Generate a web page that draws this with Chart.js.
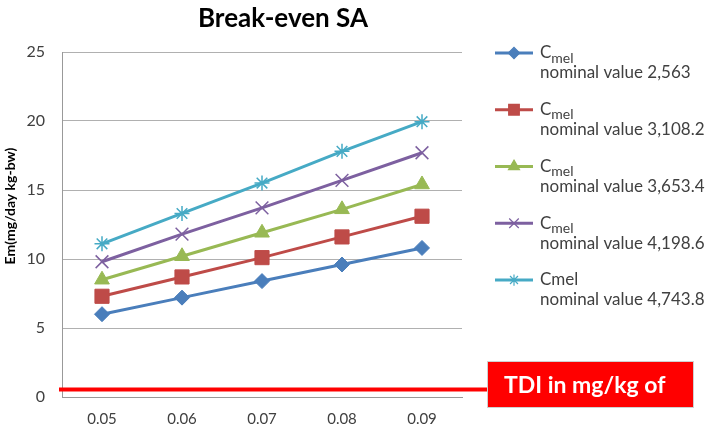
<!DOCTYPE html>
<html>
<head>
  <meta charset="UTF-8">
  <title>Break-even SA</title>
  <script src="https://cdn.jsdelivr.net/npm/chart.js"></script>
  <style>
    body { margin: 0; background: #fff; }
    #wrap { width: 709px; height: 437px; }
  </style>
</head>
<body>
  <div id="wrap"><canvas id="chart" width="709" height="437"></canvas></div>
  <script>
    const categories = ['0.05', '0.06', '0.07', '0.08', '0.09'];
    const nominalValues = ['2,563', '3,108.2', '3,653.4', '4,198.6', '4,743.8'];
    const cmel1 = [6.0, 7.2, 8.4, 9.6, 10.8];
    const cmel2 = [7.3, 8.7, 10.1, 11.6, 13.1];
    const cmel3 = [8.5, 10.2, 11.9, 13.6, 15.4];
    const cmel4 = [9.8, 11.8, 13.7, 15.7, 17.7];
    const cmel5 = [11.1, 13.3, 15.5, 17.8, 19.95];
    const yTicks = [0, 5, 10, 15, 20, 25];
    const tdi = 0.55;

    const colors = ['#4a7ebb', '#be4b48', '#98b954', '#7d60a0', '#46aac5'];
    const markers = ['rectRot', 'rect', 'triangle', 'crossRot', 'star'];
    const radii = [7.5, 10, 8.5, 9, 7.5];
    const series = [cmel1, cmel2, cmel3, cmel4, cmel5];
    const FONT = 'Lato, "Open Sans", sans-serif';

    // title, y title, legend, TDI line and box drawn by hand
    const extras = {
      id: 'extras',
      afterDraw(chart) {
        const ctx = chart.ctx;
        const y = chart.scales.y;
        const area = chart.chartArea;
        ctx.save();

        ctx.fillStyle = '#000';
        ctx.font = 'bold 26px ' + FONT;
        ctx.textAlign = 'center';
        ctx.textBaseline = 'middle';
        ctx.fillText('Break-even SA', 283, 19);

        ctx.save();
        ctx.translate(10, 206);
        ctx.rotate(-Math.PI / 2);
        ctx.font = 'bold 14px ' + FONT;
        ctx.fillText('Em(mg/day kg-bw)', 0, 0);
        ctx.restore();

        // legend
        ctx.textAlign = 'left';
        series.forEach((s, i) => {
          const ly = 53 + i * 56.75;
          ctx.strokeStyle = colors[i];
          ctx.fillStyle = colors[i];
          ctx.lineWidth = 3;
          ctx.beginPath();
          ctx.moveTo(495, ly);
          ctx.lineTo(533, ly);
          ctx.stroke();
          ctx.lineWidth = 1.2;
          Chart.helpers.drawPoint(ctx, {
            pointStyle: markers[i], radius: radii[i] * 0.75, borderWidth: 1.2
          }, 514, ly);
          ctx.fillStyle = '#404040';
          ctx.font = '17px ' + FONT;
          ctx.textBaseline = 'middle';
          if (i < 4) {
            ctx.fillText('C', 540, ly);
            const w = ctx.measureText('C').width;
            ctx.font = '14px ' + FONT;
            ctx.fillText('mel', 540 + w, ly + 5);
          } else {
            ctx.fillText('Cmel', 540, ly);
          }
          ctx.font = '17px ' + FONT;
          ctx.fillText('nominal value ' + nominalValues[i], 540, ly + 20);
        });

        // TDI line and box
        const ty = y.getPixelForValue(tdi);
        ctx.strokeStyle = '#ff0000';
        ctx.lineWidth = 4;
        ctx.beginPath();
        ctx.moveTo(area.left - 3, ty);
        ctx.lineTo(488, ty);
        ctx.stroke();
        ctx.fillStyle = '#ff0000';
        ctx.fillRect(487, 361, 207, 47);
        ctx.strokeStyle = '#d0d0d0';
        ctx.lineWidth = 1;
        ctx.strokeRect(487.5, 361.5, 206, 46);
        ctx.fillStyle = '#fff';
        ctx.font = 'bold 23px ' + FONT;
        ctx.fillText('TDI in mg/kg of', 504, 386);
        ctx.restore();
      }
    };

    new Chart(document.getElementById('chart').getContext('2d'), {
      type: 'line',
      data: {
        labels: categories,
        datasets: series.map((s, i) => ({
          label: 'Cmel nominal value ' + nominalValues[i],
          data: s,
          borderColor: colors[i],
          backgroundColor: colors[i],
          borderWidth: 3,
          pointStyle: markers[i],
          pointRadius: radii[i],
          pointBorderWidth: (markers[i] === 'crossRot' || markers[i] === 'star') ? 1.5 : 1,
          tension: 0
        }))
      },
      options: {
        responsive: false,
        animation: false,
        layout: { padding: { top: 52, right: 247, bottom: 0, left: 0 } },
        plugins: { legend: { display: false }, title: { display: false }, tooltip: { enabled: false } },
        scales: {
          x: {
            offset: true,
            grid: { display: false, drawTicks: false },
            border: { color: '#999', width: 1 },
            ticks: { color: '#404040', font: { family: FONT, size: 15 }, padding: 13, maxRotation: 0 },
            afterFit(s) { s.height = 40; }
          },
          y: {
            min: 0, max: 25,
            afterBuildTicks(s) { s.ticks = yTicks.map(v => ({ value: v })); },
            grid: { color: '#b0b0b0', drawTicks: false },
            border: { color: '#999', width: 1 },
            ticks: { color: '#404040', font: { family: FONT, size: 16 }, padding: 17 },
            afterFit(s) { s.width = 62; }
          }
        }
      },
      plugins: [extras]
    });
  </script>
</body>
</html>
